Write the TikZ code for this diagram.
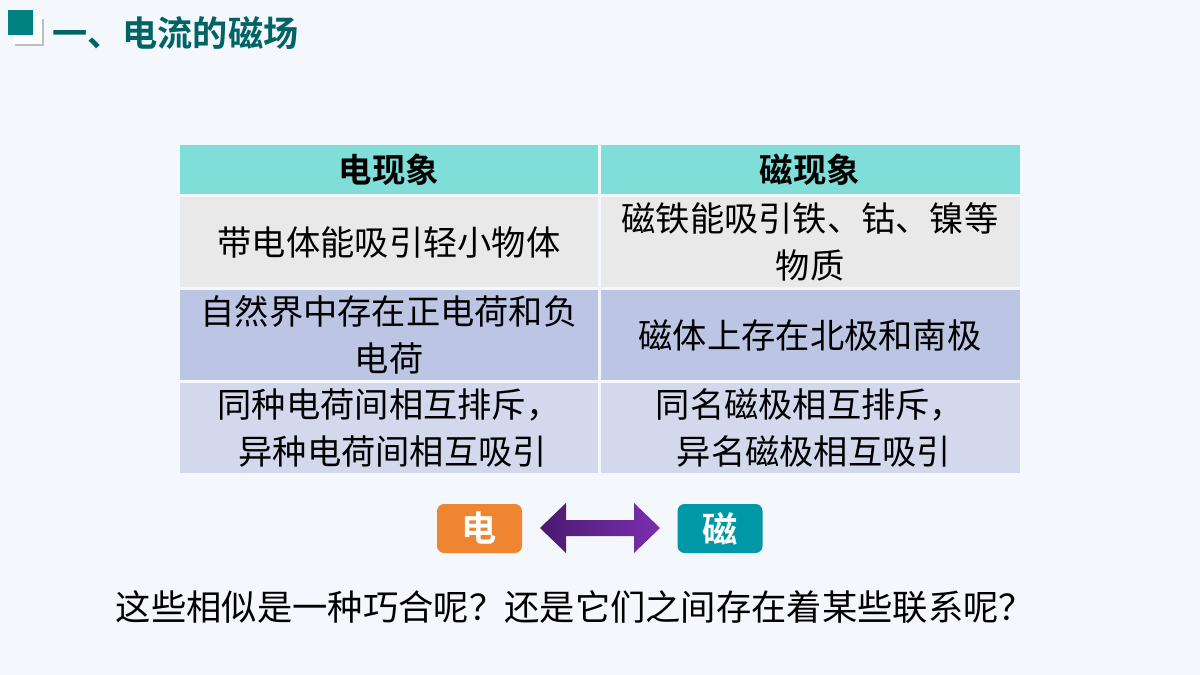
\documentclass[tikz,border=0pt]{standalone}
\usepackage{fontspec}
\setmainfont{Noto Sans CJK SC}[BoldFont={Noto Sans CJK SC Bold}]
\definecolor{bg}{HTML}{F4F7FC}
\definecolor{hdr}{HTML}{7FDED8}
\definecolor{rA}{HTML}{E9E9E9}
\definecolor{rB}{HTML}{BCC5E3}
\definecolor{rC}{HTML}{D3D8EC}
\definecolor{teal}{HTML}{00807E}
\definecolor{ttl}{HTML}{006464}
\definecolor{org}{HTML}{EF8531}
\definecolor{tq}{HTML}{0097A7}
\definecolor{pd}{HTML}{4A1A6E}
\definecolor{pl}{HTML}{7B2FB0}
\newlength\pgfxx \setlength\pgfxx{0.02cm}
\tikzset{
 cell/.style={minimum width=418\pgfxx, inner sep=0pt, align=center, font=\fontsize{19.5}{27}\selectfont},
 badge/.style={rounded corners=4pt, minimum width=85\pgfxx, minimum height=49\pgfxx, text=white, font=\fontsize{20}{24}\selectfont\bfseries}
}
\begin{document}
\begin{tikzpicture}[x=0.02cm,y=-0.02cm]
\fill[bg] (0,0) rectangle (1200,675);
\useasboundingbox (0,0) rectangle (1200,675);
% title icon
\fill[black!25] (15,19) rectangle (44,46);
\fill[white] (13,16) rectangle (42,44);
\fill[teal] (8,10) rectangle (33,35);
\node[anchor=west, text=ttl, font=\fontsize{20}{24}\selectfont\bfseries, inner sep=0pt] (title) at (52,33) {一、电流的磁场};
% table
\foreach \y/\h/\c in {145/49/hdr,197/90/rA,290/90/rB,383/90/rC}{
  \fill[\c] (180,\y) rectangle (598,\y+\h);
  \fill[\c] (601,\y) rectangle (1020,\y+\h);
}
\node[cell, font=\fontsize{19}{24}\selectfont\bfseries] (h1) at (389,170) {电现象};
\node[cell, font=\fontsize{19}{24}\selectfont\bfseries] (h2) at (810,170) {磁现象};
\node[cell] (a1) at (389,242) {带电体能吸引轻小物体};
\node[cell] (a2) at (810,242) {磁铁能吸引铁、钴、镍等\\物质};
\node[cell] (b1) at (389,335) {自然界中存在正电荷和负\\电荷};
\node[cell] (b2) at (810,335) {磁体上存在北极和南极};
\node[cell] (c1) at (389,428) {同种电荷间相互排斥，\\\ 异种电荷间相互吸引};
\node[cell] (c2) at (810,428) {同名磁极相互排斥，\\\ 异名磁极相互吸引};
% badges
\node[badge, fill=org] (e) at (479.5,528.5) {电};
\node[badge, fill=tq] (m) at (720,528.5) {磁};
% double arrow
\shade[left color=pd, right color=pl] (540,528) -- (566,503) -- (566,520) -- (634,520) -- (634,503) -- (660,528) -- (634,553) -- (634,536) -- (566,536) -- (566,553) -- cycle;
% question
\node[font=\fontsize{20.1}{26}\selectfont, inner sep=0pt] (q) at (575,607) {这些相似是一种巧合呢？还是它们之间存在着某些联系呢？};
\end{tikzpicture}
\end{document}
